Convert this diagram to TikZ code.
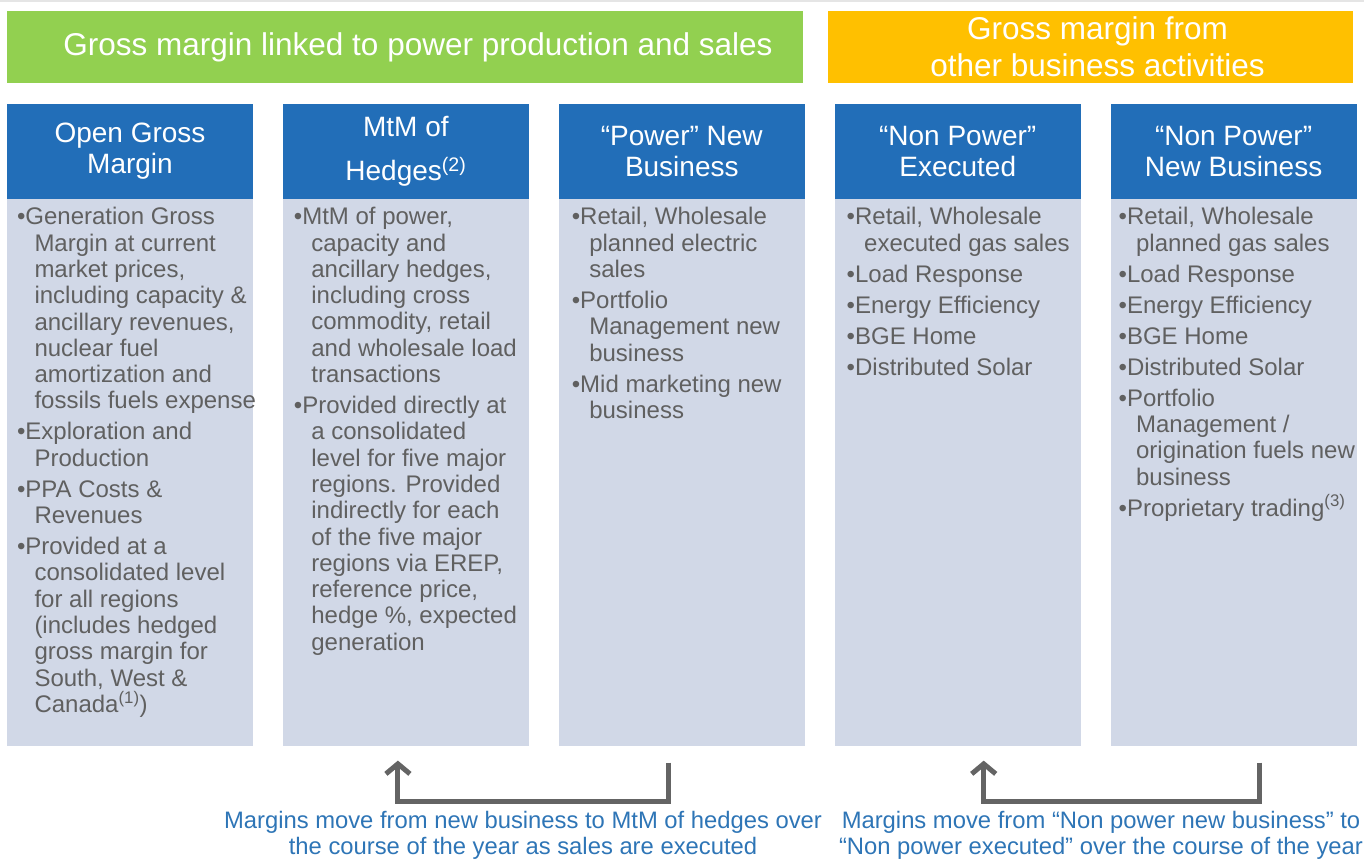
\documentclass[tikz,border=0pt]{standalone}
\usepackage{fontspec}
\setmainfont{Liberation Sans}
\usepackage{tikz}
\usetikzlibrary{positioning}
\usetikzlibrary{arrows.meta}
\definecolor{barGreen}{RGB}{146,208,80}
\definecolor{barOrange}{RGB}{255,192,0}
\definecolor{headBlue}{RGB}{34,110,184}
\definecolor{bodyFill}{RGB}{209,216,231}
\definecolor{bodyText}{RGB}{96,96,96}
\definecolor{noteBlue}{RGB}{46,117,182}
\definecolor{flowGray}{RGB}{100,100,100}
\tikzstyle{banner} = [inner sep=0pt, text=white, align=center, font=\fontsize{31.5}{37}\selectfont]
\tikzstyle{head} = [fill=headBlue, minimum width=246pt, minimum height=95pt, inner sep=0pt, text=white, align=center, font=\fontsize{28}{31}\selectfont]
\tikzstyle{body} = [fill=bodyFill, minimum width=246pt, minimum height=547pt, inner sep=0pt]
\tikzstyle{items} = [inner sep=0pt, text=bodyText, align=left, font=\fontsize{24}{26.3}\selectfont]
\tikzstyle{note} = [text=noteBlue, align=center, font=\fontsize{23.8}{26}\selectfont]
\tikzstyle{flow} = [line width=5pt, draw=flowGray, -{Straight Barb[length=10pt,width=24pt]}]
\newcommand{\ind}{\hspace*{17.5pt}}

\begin{document}
\begin{tikzpicture}[x=1pt, y=-1pt]
				\useasboundingbox (0,0) rectangle (1364,863);
				\draw[line width=1.5pt, black!10] (0,1) -- (1364,1);

				% Banners
				\node[banner, fill=barGreen, minimum width=796pt, minimum height=72pt] (power) at (405,47) {\hspace*{26pt}Gross margin linked to power production and sales};
				\node[banner, fill=barOrange, minimum width=525pt, minimum height=72pt] (other) at (1090.5,47) {\hspace*{14pt}Gross margin from\\\hspace*{14pt}other business activities};

				% Column heads
				\node[head] (h1) at (130,151.5) {Open Gross\\Margin};
				\node[head, right = 29.5pt of h1] (h2) {MtM of\\[13pt]Hedges\textsuperscript{(2)}};
				\node[head, right = 29.5pt of h2] (h3) {“Power” New\\Business};
				\node[head, right = 29.5pt of h3] (h4) {“Non Power”\\Executed};
				\node[head, right = 29.5pt of h4] (h5) {“Non Power”\\New Business};

				% Column bodies
				\node[body, below = 0pt of h1] (b1) {};
				\node[body, below = 0pt of h2] (b2) {};
				\node[body, below = 0pt of h3] (b3) {};
				\node[body, below = 0pt of h4] (b4) {};
				\node[body, below = 0pt of h5] (b5) {};

				% Bullet lists
				\node[items, below right = 8pt and 10pt of b1.north west] (t1) {•Generation Gross\\\ind Margin at current\\\ind market prices,\\\ind including capacity \&\\\ind ancillary revenues,\\\ind nuclear fuel\\\ind amortization and\\\ind fossils fuels expense\\[4.7pt]
				•Exploration and\\\ind Production\\[4.7pt]
				•PPA Costs \&\\\ind Revenues\\[4.7pt]
				•Provided at a\\\ind consolidated level\\\ind for all regions\\\ind (includes hedged\\\ind gross margin for\\\ind South, West \&\\\ind Canada\textsuperscript{(1)})};
				\node[items, below right = 8pt and 11pt of b2.north west] (t2) {•MtM of power,\\\ind capacity and\\\ind ancillary hedges,\\\ind including cross\\\ind commodity, retail\\\ind and wholesale load\\\ind transactions\\[4.7pt]
				•Provided directly at\\\ind a consolidated\\\ind level for five major\\\ind regions. Provided\\\ind indirectly for each\\\ind of the five major\\\ind regions via EREP,\\\ind reference price,\\\ind hedge \%, expected\\\ind generation};
				\node[items, below right = 8pt and 13pt of b3.north west] (t3) {•Retail, Wholesale\\\ind planned electric\\\ind sales\\[4.7pt]
				•Portfolio\\\ind Management new\\\ind business\\[4.7pt]
				•Mid marketing new\\\ind business};
				\node[items, below right = 8pt and 12pt of b4.north west] (t4) {•Retail, Wholesale\\\ind executed gas sales\\[4.7pt]
				•Load Response\\[4.7pt]
				•Energy Efficiency\\[4.7pt]
				•BGE Home\\[4.7pt]
				•Distributed Solar};
				\node[items, below right = 8pt and 8pt of b5.north west] (t5) {•Retail, Wholesale\\\ind planned gas sales\\[4.7pt]
				•Load Response\\[4.7pt]
				•Energy Efficiency\\[4.7pt]
				•BGE Home\\[4.7pt]
				•Distributed Solar\\[4.7pt]
				•Portfolio\\\ind Management /\\\ind origination fuels new\\\ind business\\[4.7pt]
				•Proprietary trading\textsuperscript{(3)}};

				% Flow arrows
				\coordinate[below left = 16pt and 13pt of b3.south] (src1);
				\coordinate[below left = 14pt and 8pt of b2.south] (dst1);
				\draw[flow] (src1) -- ++(0,39) -| (dst1);
				\coordinate[below right = 16pt and 25.5pt of b5.south] (src2);
				\coordinate[below right = 14pt and 26pt of b4.south] (dst2);
				\draw[flow] (src2) -- ++(0,39) -| (dst2);

				% Notes
				\node[note] (note1) at (523,835) {Margins move from new business to MtM of hedges over\\the course of the year as sales are executed};
				\node[note] (note2) at (1101,835) {Margins move from “Non power new business” to\\“Non power executed” over the course of the year};

\end{tikzpicture}
\end{document}
